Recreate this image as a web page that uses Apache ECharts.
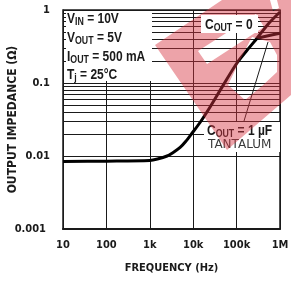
<!DOCTYPE html>
<html>
<head>
    <meta charset="utf-8"/>
    <script src="https://cdnjs.cloudflare.com/ajax/libs/echarts/6.0.0/echarts.min.js"></script>
</head>
<body style="margin:0">
<div id="main" style="width:291px;height:281px;"></div>
<script type="text/javascript">
    var chartDom = document.getElementById('main');
    var myChart = echarts.init(chartDom);
    var option;

    // C_OUT = 0 curve (Hz, ohm)
    var freqNoCap = [10, 100, 1000, 1500, 2500, 3400, 5000, 6700, 9400, 14500, 24500, 50000, 102000, 200000, 295000, 530000, 1000000];
    var zNoCap = [0.0084, 0.0085, 0.0087, 0.0091, 0.0100, 0.0111, 0.0131, 0.0158, 0.0205, 0.029, 0.047, 0.095, 0.188, 0.31, 0.41, 0.64, 0.94];
    // C_OUT = 1uF tantalum branch
    var freq1uF = [295000, 500000, 1000000];
    var z1uF = [0.41, 0.44, 0.48];

    var xTickLabels = ['10', '100', '1k', '10k', '100k', '1M'];
    var yTickLabels = ['0.001', '0.01', '0.1', '1'];
    // horizontal grid at 2..9 of each decade
    var minorGrid = [];
    [0.001, 0.01, 0.1].forEach(function (d) {
        for (var k = 2; k <= 9; k++) minorGrid.push(+(d * k).toPrecision(3));
    });

    var font = "'DejaVu Sans Condensed', sans-serif";
    var noteFont = "'Liberation Sans', Arial, sans-serif";
    var ink = '#1a1a1a';

    // red stamp over the plot (drawn as svg so it can have holes)
    var stampSvg = '<svg xmlns="http://www.w3.org/2000/svg" width="291" height="281">' +
        '<path fill-rule="evenodd" fill="rgb(215,50,65)" fill-opacity="0.45" d="' +
        'M155 45 L222 0 L291 0 L291 95 L227 150 Z ' +
        'M198 51 L207 64 L264 27 L256 14 Z ' +
        'M252 37 L240 60 L228 85 L245 100 L262 86 L277 72 L277 55 L270 42 Z ' +
        'M270 0 L273 11 L279 8 L277 0 Z"/></svg>';

    function pairs(xs, ys) {
        return xs.map(function (x, i) { return [x, ys[i]]; });
    }

    var richStyle = {
        v: { fontFamily: noteFont, fontWeight: 'bold', fontSize: 15, lineHeight: 14, verticalAlign: 'top', fill: ink },
        s: { fontFamily: noteFont, fontWeight: 'bold', fontSize: 11, lineHeight: 11, padding: [5, 0, 0, 0], verticalAlign: 'top', fill: ink }
    };

    function note(main, sub, rest, x, y, z) {
        return {
            type: 'text', x: x, y: y, z: z, scaleX: 0.8,
            style: { text: '{v|' + main + '}{s|' + sub + '}{v|' + rest + '}', rich: richStyle }
        };
    }

    option = {
        animation: false,
        grid: {
            left: 63, right: 11, top: 10, bottom: 52, containLabel: false, outerBoundsMode: 'none',
            show: true, borderColor: ink, borderWidth: 1.5
        },
        xAxis: {
            type: 'log', logBase: 10, min: 10, max: 1000000, interval: 1,
            name: 'FREQUENCY (Hz)', nameLocation: 'middle', nameGap: 34, nameMoveOverlap: false,
            nameTextStyle: { fontFamily: font, fontWeight: 'bold', fontSize: 11, color: ink },
            axisLine: { lineStyle: { color: ink, width: 2 } },
            axisTick: { show: false },
            splitLine: { show: true, lineStyle: { color: ink, width: 1 } },
            axisLabel: {
                margin: 11, fontFamily: font, fontWeight: 'bold', fontSize: 11, color: ink,
                formatter: function (v) { return xTickLabels[Math.round(Math.log10(v)) - 1]; }
            }
        },
        yAxis: {
            type: 'log', logBase: 10, min: 0.001, max: 1, interval: 1,
            name: 'OUTPUT IMPEDANCE (Ω)', nameLocation: 'middle', nameGap: 44, nameMoveOverlap: false,
            nameTextStyle: { fontFamily: font, fontWeight: 'bold', fontSize: 12, color: ink },
            axisLine: { lineStyle: { color: ink, width: 1 } },
            axisTick: { show: false },
            splitLine: { show: true, lineStyle: { color: ink, width: 1 } },
            axisLabel: {
                margin: 13, fontFamily: font, fontWeight: 'bold', fontSize: 11, color: ink,
                formatter: function (v) {
                    var i = Math.round(Math.log10(v)) + 3;
                    return i === 0 ? '{a|' + yTickLabels[i] + '}' : yTickLabels[i];
                },
                rich: { a: { fontFamily: font, fontWeight: 'bold', fontSize: 11, color: ink, padding: [0, 4, 0, 0] } }
            }
        },
        series: [
            {
                type: 'line', data: [], silent: true,
                markLine: {
                    silent: true, symbol: 'none', label: { show: false },
                    lineStyle: { color: ink, width: 1, type: 'solid' },
                    data: minorGrid.map(function (v) { return { yAxis: v }; })
                }
            },
            {
                type: 'line', data: pairs(freqNoCap, zNoCap), smooth: 0.3, showSymbol: false,
                lineStyle: { color: '#000', width: 3 }, z: 5
            },
            {
                type: 'line', data: pairs(freq1uF, z1uF), smooth: 0.3, showSymbol: false,
                lineStyle: { color: '#000', width: 3 }, z: 5
            }
        ],
        graphic: [
            { type: 'rect', shape: { x: 66, y: 11, width: 86, height: 70 }, style: { fill: '#fff' }, z: 50 },
            note('V', 'IN', ' = 10V', 67, 11, 60),
            note('V', 'OUT', ' = 5V', 67, 30, 60),
            note('I', 'OUT', ' = 500 mA', 67, 49, 60),
            note('T', 'j', ' = 25°C', 67, 67, 60),
            { type: 'line', shape: { x1: 244, y1: 121, x2: 268, y2: 42 }, style: { stroke: ink, lineWidth: 1 }, z: 60 },
            { type: 'rect', shape: { x: 204, y: 122, width: 76, height: 30 }, style: { fill: '#fff' }, z: 60 },
            note('C', 'OUT', ' = 1 µF', 207, 123, 62),
            {
                type: 'text', x: 208, y: 139, z: 62,
                style: { text: 'TANTALUM', fontFamily: "'DejaVu Sans', sans-serif", fontSize: 12, fill: '#3a3a3a' }
            },
            {
                type: 'image', x: 0, y: 0, z: 100, silent: true,
                style: { image: 'data:image/svg+xml;charset=utf-8,' + encodeURIComponent(stampSvg), width: 291, height: 281 }
            },
            { type: 'rect', shape: { x: 201, y: 15, width: 57, height: 18 }, style: { fill: '#fff' }, z: 110 },
            note('C', 'OUT', ' = 0', 205, 17, 112)
        ]
    };

    option && myChart.setOption(option);
</script>
</body>
</html>
